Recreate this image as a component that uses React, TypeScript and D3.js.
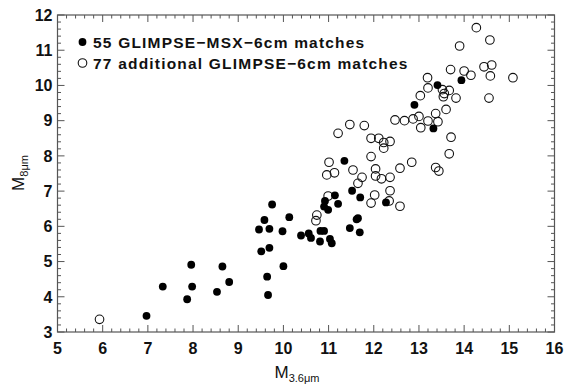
import * as d3 from 'd3'

// 55 GLIMPSE-MSX-6cm matches (filled)
const matchX = [6.97, 7.33, 7.96, 7.98, 7.87, 8.53, 8.65, 8.8, 9.75, 10.13, 9.58, 9.46, 9.69, 9.98, 9.51, 9.69, 10.0, 9.64, 9.66, 10.39, 10.56, 10.61, 10.81, 10.82, 10.9, 11.03, 11.07, 10.92, 10.9, 10.99, 11.14, 11.21, 11.35, 11.52, 11.7, 11.62, 11.65, 11.47, 11.69, 12.27, 12.9, 13.41, 13.94, 13.32]
const matchY = [3.46, 4.29, 4.91, 4.29, 3.93, 4.14, 4.86, 4.42, 6.62, 6.26, 6.18, 5.91, 5.93, 5.86, 5.29, 5.39, 4.87, 4.57, 4.05, 5.74, 5.8, 5.67, 5.57, 5.87, 5.87, 5.64, 5.52, 6.72, 6.56, 6.47, 6.88, 6.64, 7.86, 7.01, 6.82, 6.2, 6.23, 5.95, 5.83, 6.68, 9.45, 10.01, 10.15, 8.78]

// 77 additional GLIMPSE-6cm matches (open)
const addX = [5.93, 10.99, 10.74, 10.72, 12.47, 12.68, 12.87, 13.0, 13.04, 11.47, 11.79, 11.21, 11.94, 12.11, 12.22, 12.36, 12.22, 11.01, 10.96, 11.13, 11.94, 11.54, 12.04, 12.04, 12.17, 12.36, 11.74, 11.65, 12.58, 12.84, 12.36, 12.02, 11.94, 12.34, 12.58, 14.27, 14.57, 13.9, 13.7, 14.0, 14.15, 14.44, 14.61, 14.58, 15.08, 13.19, 13.2, 13.52, 13.67, 13.56, 13.54, 13.82, 14.55, 13.03, 13.6, 13.37, 13.2, 13.42, 13.71, 13.67, 13.37, 13.44]
const addY = [3.36, 6.86, 6.32, 6.16, 9.02, 9.0, 9.05, 9.12, 8.8, 8.89, 8.86, 8.64, 8.5, 8.5, 8.38, 8.41, 8.22, 7.82, 7.46, 7.52, 7.98, 7.6, 7.63, 7.43, 7.35, 7.39, 7.39, 7.22, 7.65, 7.82, 7.01, 6.89, 6.66, 6.72, 6.57, 11.64, 11.29, 11.12, 10.45, 10.41, 10.29, 10.53, 10.58, 10.27, 10.22, 10.22, 9.93, 9.88, 9.86, 9.77, 9.68, 9.64, 9.64, 9.71, 9.32, 9.2, 8.99, 8.97, 8.53, 8.06, 7.67, 7.57]

const xTicks = [5, 6, 7, 8, 9, 10, 11, 12, 13, 14, 15, 16]
const yTicks = [3, 4, 5, 6, 7, 8, 9, 10, 11, 12]
const legendLabels = ['55 GLIMPSE\u2212MSX\u22126cm matches', '77 additional GLIMPSE\u22126cm matches']

const W = 570, H = 386
const L = 57.5, R = 554.5, T = 15, B = 332
const FONT = '"Liberation Sans", Arial, Helvetica, sans-serif'
const AX = '#555'

export default function App() {
  const x = d3.scaleLinear().domain([5, 16]).range([L, R])
  const y = d3.scaleLinear().domain([3, 12]).range([B, T])
  const xMinor = d3.range(5, 16.001, 0.2)
  const yMinor = d3.range(3, 12.001, 0.2)
  const isMajor = (v: number) => Math.abs(v - Math.round(v)) < 1e-6
  const tl = (v: number) => (isMajor(v) ? 7 : 3.5)

  return (
    <svg width={W} height={H} style={{ position: 'absolute', left: 0, top: 0, background: '#fff' }} fontFamily={FONT}>
      {/* ticks, inward on all sides */}
      <g stroke={AX} strokeWidth={1}>
        {xMinor.map((v, i) => (
          <g key={'x' + i}>
            <line x1={x(v)} x2={x(v)} y1={B} y2={B - tl(v)} />
            <line x1={x(v)} x2={x(v)} y1={T} y2={T + tl(v)} />
          </g>
        ))}
        {yMinor.map((v, i) => (
          <g key={'y' + i}>
            <line x1={L} x2={L + tl(v)} y1={y(v)} y2={y(v)} />
            <line x1={R} x2={R - tl(v)} y1={y(v)} y2={y(v)} />
          </g>
        ))}
      </g>
      <rect x={L} y={T} width={R - L} height={B - T} fill="none" stroke={AX} strokeWidth={1.2} />

      {xTicks.map(v => (
        <text key={v} x={x(v)} y={B + 22} textAnchor="middle" fontSize={16} fontWeight="bold" fill="#111">{v}</text>
      ))}
      {yTicks.map(v => (
        <text key={v} x={L - 5} y={y(v)} dy="0.36em" textAnchor="end" fontSize={16} fontWeight="bold" fill="#111">{v}</text>
      ))}

      <text x={297} y={378} textAnchor="middle" fontSize={17} fill="#111">
        M<tspan fontSize={11} dy={4}>3.6μm</tspan>
      </text>
      <text transform={`translate(24,${173}) rotate(-90)`} textAnchor="middle" fontSize={17} fill="#111">
        M<tspan fontSize={11} dy={4}>8μm</tspan>
      </text>

      {/* points */}
      {addX.map((v, i) => (
        <circle key={'a' + i} cx={x(v)} cy={y(addY[i])} r={4.3} fill="none" stroke="#111" strokeWidth={1.1} />
      ))}
      {matchX.map((v, i) => (
        <circle key={'m' + i} cx={x(v)} cy={y(matchY[i])} r={3.9} fill="#000" />
      ))}

      {/* legend */}
      <circle cx={82.5} cy={42} r={3.9} fill="#000" />
      <text x={93} y={47.5} fontSize={15.5} fontWeight="bold" letterSpacing={1.2} fill="#111">{legendLabels[0]}</text>
      <circle cx={82.5} cy={63} r={4.3} fill="none" stroke="#111" strokeWidth={1.1} />
      <text x={93} y={68.5} fontSize={15.5} fontWeight="bold" letterSpacing={1.2} fill="#111">{legendLabels[1]}</text>
    </svg>
  )
}
